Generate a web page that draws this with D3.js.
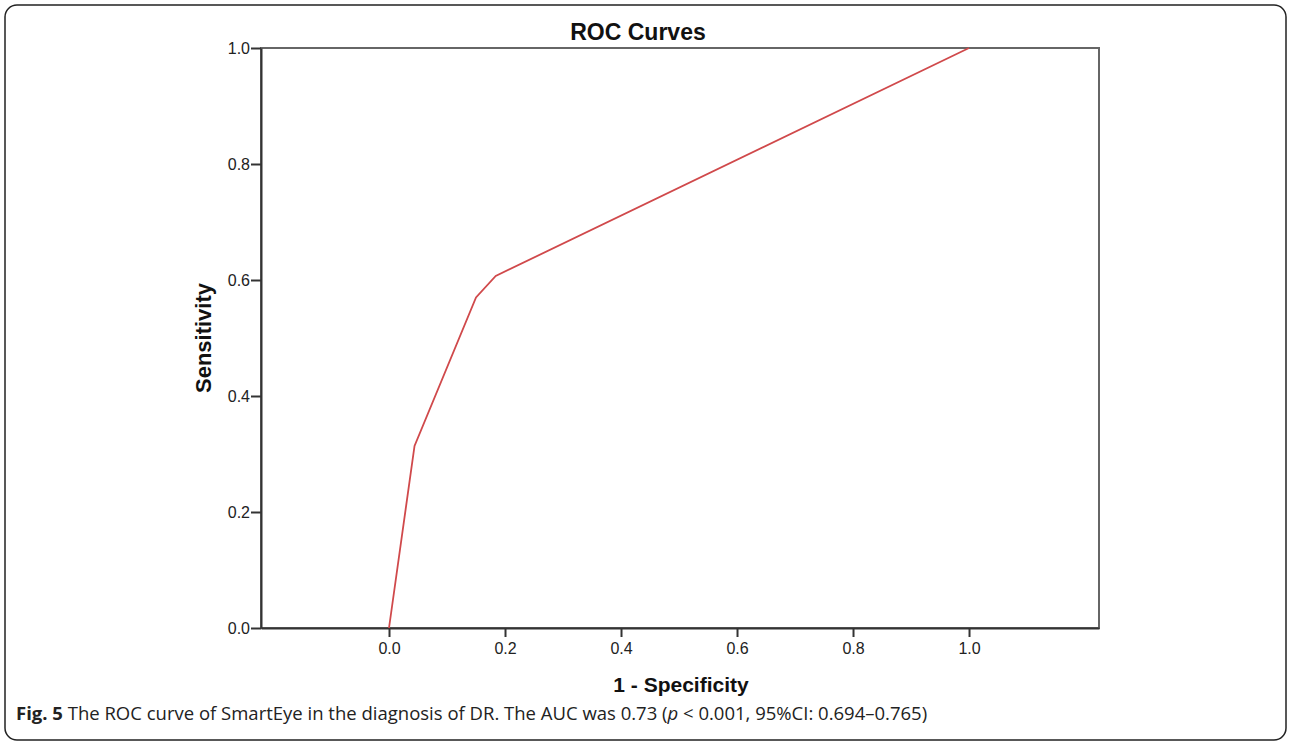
<!DOCTYPE html>
<html>
<head>
<meta charset="utf-8">
<style>
  body { margin: 0; background: #fff; }
  .tick text { font-family: "Liberation Sans", Arial, sans-serif; font-size: 16px; fill: #222; }
  .tick line { stroke: #333; stroke-width: 2px; }
</style>
</head>
<body>
<svg id="chart" width="1290" height="746"></svg>
<script src="https://cdn.jsdelivr.net/npm/d3@7"></script>
<script>
// ROC points
let fpr = [0.0, 0.044, 0.150, 0.184, 1.0]
let tpr = [0.0, 0.314, 0.570, 0.607, 1.0]
let xTicks = [0.0, 0.2, 0.4, 0.6, 0.8, 1.0]
let yTicks = [0.0, 0.2, 0.4, 0.6, 0.8, 1.0]

let svg = d3.select("#chart")

// outer figure frame
svg.append("rect")
   .attr("x", 5).attr("y", 5)
   .attr("width", 1281).attr("height", 735)
   .attr("rx", 12)
   .attr("fill", "none")
   .attr("stroke", "#222")
   .attr("stroke-width", 1.5)

let plotLeft = 261, plotRight = 1099, plotTop = 48, plotBottom = 628

let x = d3.scaleLinear().domain([-0.2207, 1.2241]).range([plotLeft, plotRight])
let y = d3.scaleLinear().domain([0, 1]).range([plotBottom, plotTop])

// plot box
svg.append("rect")
   .attr("x", plotLeft).attr("y", plotTop)
   .attr("width", plotRight - plotLeft).attr("height", plotBottom - plotTop)
   .attr("fill", "none")
   .attr("stroke", "#666")
   .attr("stroke-width", 2)

let xAxis = svg.append("g")
   .attr("transform", `translate(0,${plotBottom})`)
   .call(d3.axisBottom(x).tickValues(xTicks).tickFormat(d3.format(".1f")).tickSize(9).tickSizeOuter(0))
xAxis.select(".domain").attr("stroke", "#333").attr("stroke-width", 2)
xAxis.selectAll("text").attr("y", 10).attr("dy", "1.0em")

let yAxis = svg.append("g")
   .attr("transform", `translate(${plotLeft},0)`)
   .call(d3.axisLeft(y).tickValues(yTicks).tickFormat(d3.format(".1f")).tickSize(10).tickSizeOuter(0))
yAxis.select(".domain").attr("stroke", "#333").attr("stroke-width", 2)
yAxis.selectAll("text").attr("x", -11)

// the curve
let pts = fpr.map((d, i) => [d, tpr[i]])
svg.append("path")
   .datum(pts)
   .attr("fill", "none")
   .attr("stroke", "#d0494b")
   .attr("stroke-width", 1.8)
   .attr("d", d3.line().x(d => x(d[0])).y(d => y(d[1])))

// titles
svg.append("text")
   .attr("x", 638).attr("y", 40)
   .attr("text-anchor", "middle")
   .style("font-family", "Liberation Sans, Arial, sans-serif")
   .style("font-weight", "bold")
   .style("font-size", "23px")
   .attr("fill", "#111")
   .text("ROC Curves")

svg.append("text")
   .attr("x", 681).attr("y", 692)
   .attr("text-anchor", "middle")
   .style("font-family", "Liberation Sans, Arial, sans-serif")
   .style("font-weight", "bold")
   .style("font-size", "21px")
   .attr("fill", "#111")
   .text("1 - Specificity")

svg.append("text")
   .attr("transform", "translate(211,338) rotate(-90)")
   .attr("text-anchor", "middle")
   .style("font-family", "Liberation Sans, Arial, sans-serif")
   .style("font-weight", "bold")
   .style("font-size", "22px")
   .attr("fill", "#111")
   .text("Sensitivity")

// caption
let cap = svg.append("text")
   .attr("x", 16).attr("y", 720)
   .style("font-family", "Open Sans, sans-serif")
   .style("font-size", "18.5px")
   .attr("fill", "#222")
cap.append("tspan").style("font-weight", "bold").text("Fig. 5")
cap.append("tspan").text(" The ROC curve of SmartEye in the diagnosis of DR. The AUC was 0.73 (")
cap.append("tspan").style("font-style", "italic").text("p")
cap.append("tspan").text(" < 0.001, 95%CI: 0.694–0.765)")
</script>
</body>
</html>
